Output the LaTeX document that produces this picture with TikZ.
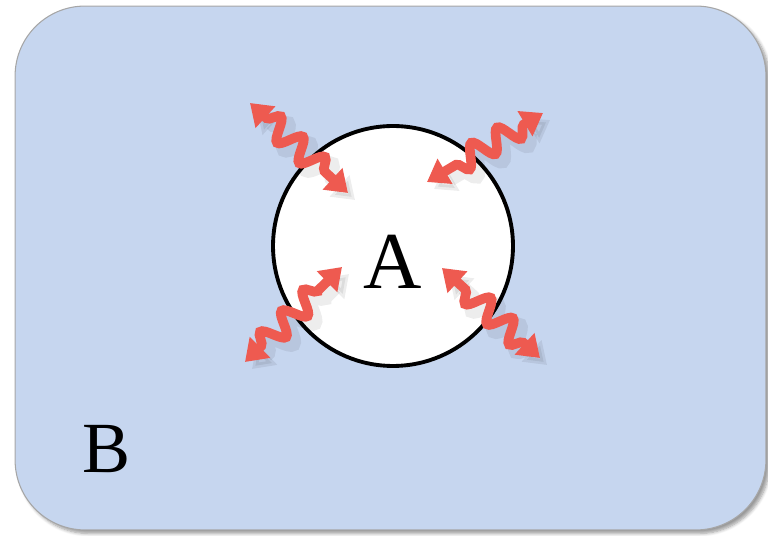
\documentclass[tikz,border=0pt]{standalone}
\usepackage{fontspec}
\setmainfont{Liberation Serif}
\usetikzlibrary{arrows.meta, decorations.pathmorphing, shadows.blur}

\definecolor{regionblue}{HTML}{C6D6EF}
\definecolor{wavered}{HTML}{EE5A50}

\begin{document}
\begin{tikzpicture}[
        x=0.02cm, y=-0.02cm,
        region/.style={rectangle, draw=black!35, line width=0.6pt, fill=regionblue,
                       rounded corners=1.4cm, minimum width=15.02cm, minimum height=10.48cm,
                       blur shadow={shadow xshift=2pt, shadow yshift=-2pt, shadow blur steps=6}},
        core/.style={circle, draw=black, line width=2.2pt, fill=white,
                     minimum size=4.8cm, inner sep=0pt},
        lab/.style={font=\fontsize{46}{46}\selectfont, inner sep=0pt},
        wave/.style={{Triangle[width=0.56cm, length=0.42cm]}-{Triangle[width=0.56cm, length=0.42cm]},
                     draw=wavered, line width=5.5pt, decorate,
                     decoration={snake, amplitude=0.22cm, segment length=0.6cm,
                                 pre length=0.45cm, post length=0.45cm}},
        waveshadow/.style={wave, draw=black, opacity=0.07, line width=8pt},
    ]
    \useasboundingbox (0,0) rectangle (768,536);

    % region B
    \node[region] (regB) at (390.5, 268) {};

    % region A
    \node[core] (regA) at (393, 246) {};

    % labels
    \node[lab] (labA) at (393, 262) {A};
    \node[lab, font=\fontsize{41}{41}\selectfont] (labB) at (107, 449) {B};

    % arrow ends
    \coordinate (nwout) at (250, 103);
    \coordinate (nwin) at (348, 193);
    \coordinate (neout) at (543, 113);
    \coordinate (nein) at (427, 182);
    \coordinate (swout) at (245, 362);
    \coordinate (swin) at (342, 267);
    \coordinate (seout) at (540, 358);
    \coordinate (sein) at (442, 268);

    % shadows of the waves
    \foreach \a/\b in {nwout/nwin, neout/nein, swout/swin, seout/sein}
        \draw[waveshadow, transform canvas={xshift=4pt, yshift=-4pt}] (\a) -- (\b);

    % waves
    \foreach \a/\b in {nwout/nwin, neout/nein, swout/swin, seout/sein}
        \draw[wave] (\a) -- (\b);

\end{tikzpicture}
\end{document}
